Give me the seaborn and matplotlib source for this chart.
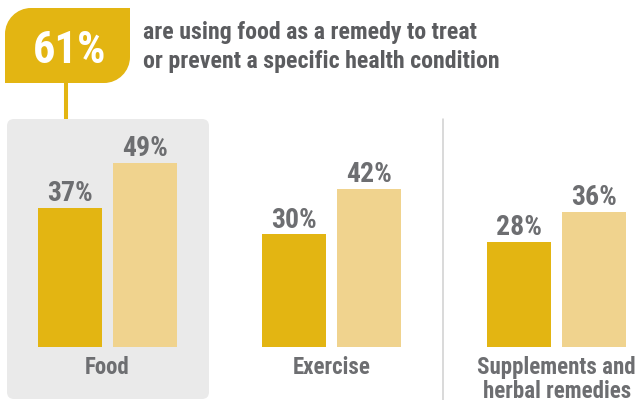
import matplotlib
matplotlib.use("Agg")
import matplotlib.pyplot as plt
import matplotlib.patches as mpatches
import matplotlib.transforms as mtransforms
from matplotlib.path import Path
from matplotlib import font_manager
import pandas as pd
import seaborn as sns

# Data
categories = ["Food", "Exercise", "Supplements and\nherbal remedies"]
series = ["Group A", "Group B"]
values_a = [37, 30, 28]
values_b = [49, 42, 36]
headline_value = "61%"
headline_text = "are using food as a remedy to treat\nor prevent a specific health condition"

DARK = "#E3B512"
LIGHT = "#F0D38E"
BOX_GRAY = "#EAEAEA"
LABEL_GRAY = "#6D6E71"
TEXT_GRAY = "#5B5C5F"

sns.set_theme(style="white")

# Pick a condensed bold face if there is one
names = {f.name for f in font_manager.fontManager.ttflist}
font = "Liberation Sans"
for cand in ["Liberation Sans Narrow", "Roboto Condensed", "Liberation Sans"]:
    if cand in names:
        font = cand
        break
plt.rcParams["font.family"] = [font, "DejaVu Sans"]

df = pd.DataFrame({
    "category": categories * 2,
    "series": [series[0]] * 3 + [series[1]] * 3,
    "value": values_a + values_b,
})

fig = plt.figure(figsize=(6.36, 4.0), dpi=100)
ax = fig.add_axes([0, 0, 1, 1])

sns.barplot(data=df, x="category", y="value", hue="series", order=categories,
            hue_order=series, palette=[DARK, LIGHT], saturation=1,
            width=0.667, gap=0.147, legend=False, ax=ax, zorder=3,
            linewidth=0, edgecolor="none")

for cont in ax.containers:
    ax.bar_label(cont, fmt="{:.0f}%", padding=0.5, fontsize=20, fontweight="bold",
                 color=LABEL_GRAY)

ax.set_xlim(-0.477, 2.353)
ax.set_ylim(-14.1, 92.3)
ax.axis("off")

# pixel transform (origin top-left)
px = mtransforms.Affine2D().scale(1 / 636, -1 / 400).translate(0, 1) + fig.transFigure

# gray panel behind Food
panel = mpatches.FancyBboxPatch((7, 119), 202, 280, boxstyle="round,pad=0,rounding_size=7",
                                transform=px, facecolor=BOX_GRAY, edgecolor="none",
                                zorder=0, clip_on=False)
ax.add_patch(panel)

# divider
ax.plot([442.5, 442.5], [119, 400], transform=px, color="#CFCFCF", lw=1.1,
        clip_on=False, zorder=1)

# stem
ax.plot([65.5, 65.5], [80, 119], transform=px, color=DARK, lw=2.9,
        clip_on=False, zorder=1, solid_capstyle="butt")

# callout box with two rounded corners
x0, x1, y0, y1, r = 5, 130, 8, 83, 26
k = 0.45
verts = [(x0, y1), (x0, y0 + r), (x0, y0 + r * k), (x0 + r * k, y0), (x0 + r, y0),
         (x1, y0), (x1, y1 - r), (x1, y1 - r * k), (x1 - r * k, y1), (x1 - r, y1),
         (x0, y1), (x0, y1)]
codes = [Path.MOVETO, Path.LINETO, Path.CURVE4, Path.CURVE4, Path.CURVE4,
         Path.LINETO, Path.LINETO, Path.CURVE4, Path.CURVE4, Path.CURVE4,
         Path.LINETO, Path.CLOSEPOLY]
ax.add_patch(mpatches.PathPatch(Path(verts, codes), transform=px, facecolor=DARK,
                                edgecolor="none", zorder=2, clip_on=False))

ax.text(70, 63, headline_value, transform=px, ha="center", va="baseline",
        fontsize=32, fontweight="bold", color="white", zorder=4)

for i, line in enumerate(headline_text.split("\n")):
    ax.text(143, 39 + 29 * i, line, transform=px, ha="left", va="baseline",
            fontsize=17.2, fontweight="bold", color=TEXT_GRAY)

# category labels, one text per line
lab_tr = mtransforms.blended_transform_factory(ax.transData, px)
for i, cat in enumerate(categories):
    for j, line in enumerate(cat.split("\n")):
        ax.text(i, 374 + 24 * j, line, transform=lab_tr, ha="center", va="baseline",
                fontsize=16.5, fontweight="bold", color=LABEL_GRAY)

fig.savefig("out.png", dpi=100)
